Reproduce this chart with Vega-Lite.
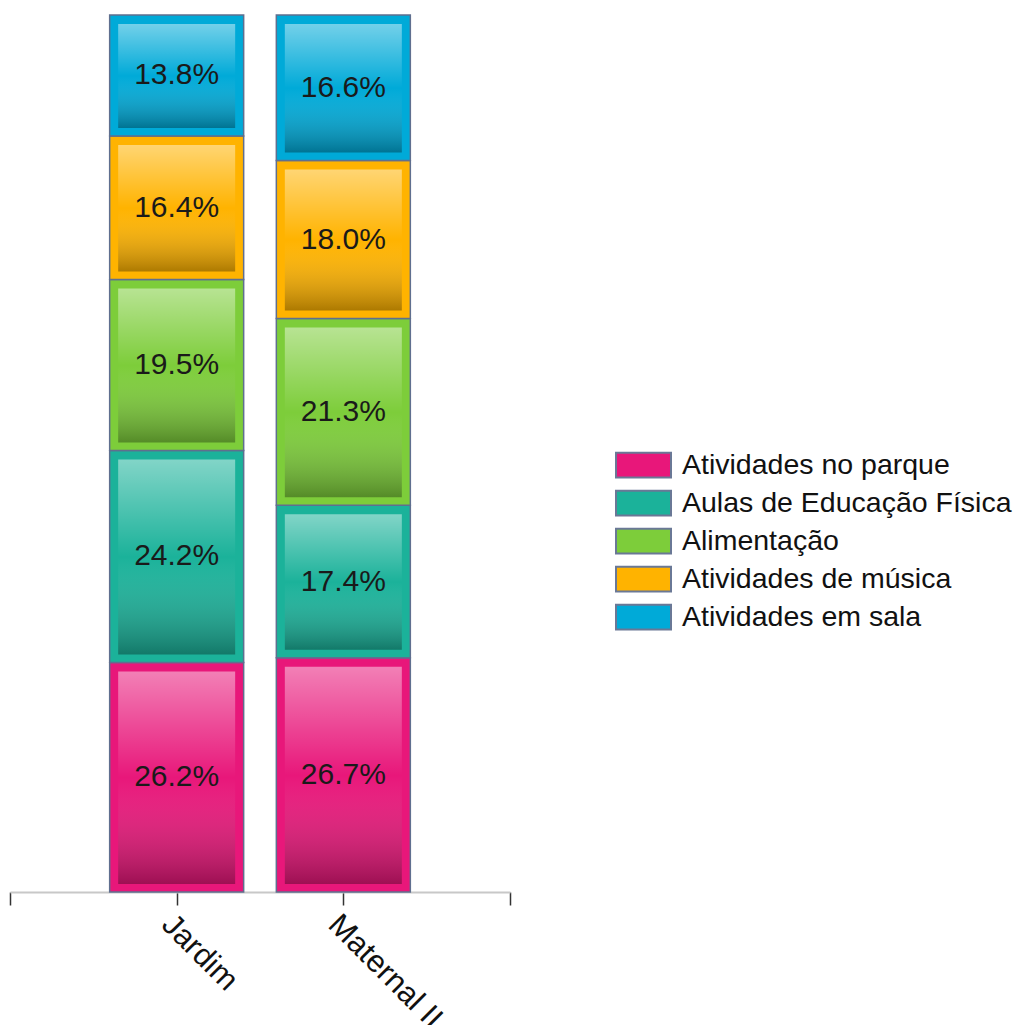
{
  "$schema": "https://vega.github.io/schema/vega-lite/v6.json",
  "width": 500,
  "height": 877,
  "autosize": "none",
  "padding": {"left": 10, "top": 15, "right": 507, "bottom": 133},
  "background": "white",
  "config": {"view": {"stroke": null}, "font": "Liberation Sans"},
  "data": {
    "values": [
      {"grade": "Jardim", "cat": "Atividades no parque", "ord": 1, "value": 0.262},
      {"grade": "Jardim", "cat": "Aulas de Educação Física", "ord": 2, "value": 0.242},
      {"grade": "Jardim", "cat": "Alimentação", "ord": 3, "value": 0.195},
      {"grade": "Jardim", "cat": "Atividades de música", "ord": 4, "value": 0.164},
      {"grade": "Jardim", "cat": "Atividades em sala", "ord": 5, "value": 0.138},
      {"grade": "Maternal II", "cat": "Atividades no parque", "ord": 1, "value": 0.267},
      {"grade": "Maternal II", "cat": "Aulas de Educação Física", "ord": 2, "value": 0.174},
      {"grade": "Maternal II", "cat": "Alimentação", "ord": 3, "value": 0.213},
      {"grade": "Maternal II", "cat": "Atividades de música", "ord": 4, "value": 0.180},
      {"grade": "Maternal II", "cat": "Atividades em sala", "ord": 5, "value": 0.166}
    ]
  },
  "transform": [
    {"stack": "value", "groupby": ["grade"], "sort": [{"field": "ord", "order": "ascending"}], "offset": "normalize", "as": ["v0", "v1"]}
  ],
  "encoding": {
    "x": {
      "field": "grade", "type": "nominal",
      "scale": {"type": "point", "domain": ["", "Jardim", "Maternal II", " "], "padding": 0},
      "axis": {
        "title": null, "domainColor": "#c8c8c8", "domainWidth": 2,
        "tickColor": "#333333", "tickSize": 13, "tickWidth": 1.5,
        "labelAngle": 45, "labelAlign": "left", "labelBaseline": "top",
        "labelFontSize": 31, "labelColor": "#111111", "labelPadding": 4,
        "labelFont": "Liberation Sans"
      }
    }
  },
  "layer": [
    {
      "mark": {"type": "bar", "width": 134, "stroke": "#5f6f8f", "strokeWidth": 1.5},
      "encoding": {
        "y": {"field": "v1", "type": "quantitative", "scale": {"domain": [0, 1], "nice": false}, "axis": null},
        "y2": {"field": "v0"},
        "color": {
          "field": "cat", "type": "nominal",
          "scale": {
            "domain": ["Atividades no parque", "Aulas de Educação Física", "Alimentação", "Atividades de música", "Atividades em sala"],
            "range": ["#E8177A", "#1BB29A", "#7DCD3A", "#FFB300", "#00AAD8"]
          },
          "legend": {
            "title": null, "orient": "none", "legendX": 605, "legendY": 431,
            "symbolType": "M-1,-0.45H1V0.45H-1Z", "symbolSize": 3025,
            "symbolStrokeColor": "#6a7896", "symbolStrokeWidth": 2, "symbolOpacity": 1,
            "labelFontSize": 28.5, "labelColor": "#111111", "labelOffset": 10,
            "labelFont": "Liberation Sans", "rowPadding": 0, "clipHeight": 38, "labelLimit": 500
          }
        }
      }
    },
    {
      "mark": {
        "type": "bar", "width": 117, "yOffset": 9, "y2Offset": -8,
        "fill": {
          "gradient": "linear", "x1": 0, "y1": 0, "x2": 0, "y2": 1,
          "stops": [
            {"offset": 0, "color": "rgba(255,255,255,0.45)"},
            {"offset": 0.5, "color": "rgba(255,255,255,0)"},
            {"offset": 1, "color": "rgba(0,0,0,0.32)"}
          ]
        }
      },
      "encoding": {
        "y": {"field": "v1", "type": "quantitative"},
        "y2": {"field": "v0"}
      }
    },
    {
      "transform": [
        {"fold": ["v0", "v1"], "as": ["edge", "pos"]},
        {"aggregate": [{"op": "mean", "field": "pos", "as": "vmid"}], "groupby": ["grade", "cat", "value"]}
      ],
      "mark": {"type": "text", "fontSize": 30, "color": "#1a1a1a", "font": "Liberation Sans", "baseline": "middle"},
      "encoding": {
        "y": {"field": "vmid", "type": "quantitative"},
        "text": {"field": "value", "type": "quantitative", "format": ".1%"}
      }
    }
  ]
}
